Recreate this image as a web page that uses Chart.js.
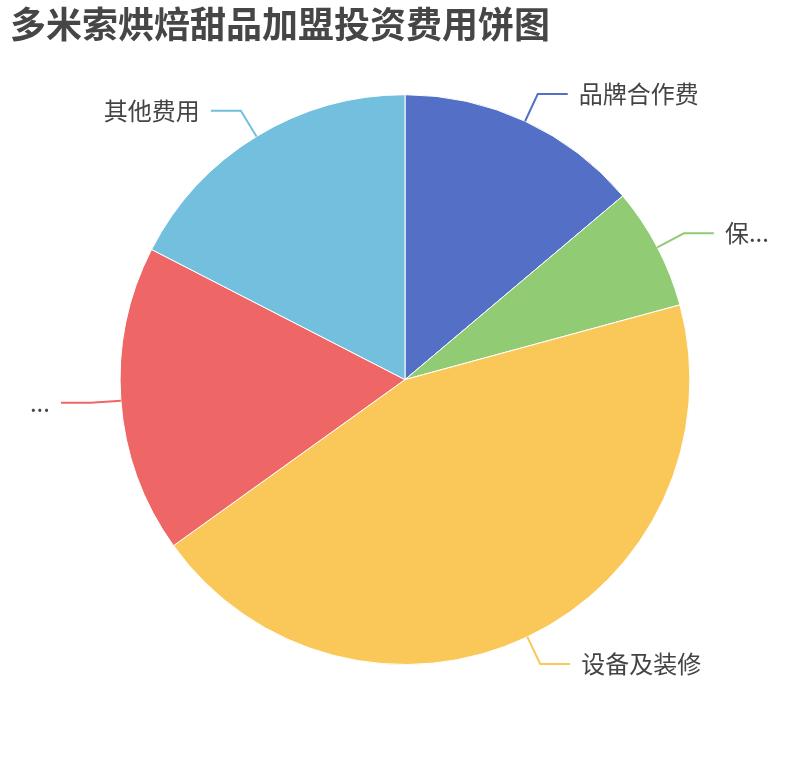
<!DOCTYPE html>
<html lang="zh">
<head>
  <meta charset="UTF-8">
  <title>多米索烘焙甜品加盟投资费用饼图</title>
  <script src="https://cdn.jsdelivr.net/npm/chart.js"></script>
  <style>
    html, body { margin: 0; padding: 0; background: #fff; }
    #wrap { width: 810px; height: 760px; }
  </style>
</head>
<body>
<div id="wrap"><canvas id="pieChart"></canvas></div>
<script>
  // 费用项目（万元）
  const categories = ['品牌合作费', '保证金', '设备及装修', '首批物料及人员培训费', '其他费用'];
  const shownLabels = ['品牌合作费', '保...', '设备及装修', '...', '其他费用'];
  const amounts = [5, 2.5, 16, 6.3, 6.3];
  const colors = ['#5470c6', '#91cc75', '#fac858', '#ee6666', '#73c0de'];

  // 画引导线和标签
  const sliceLabels = {
    id: 'sliceLabels',
    afterDatasetsDraw(chart) {
      const ctx = chart.ctx;
      const arcs = chart.getDatasetMeta(0).data;
      ctx.save();
      ctx.font = '24px "Noto Sans CJK SC", sans-serif';
      ctx.textBaseline = 'middle';
      arcs.forEach((arc, i) => {
        const mid = (arc.startAngle + arc.endAngle) / 2;
        const r = arc.outerRadius;
        const x1 = arc.x + Math.cos(mid) * r;
        const y1 = arc.y + Math.sin(mid) * r;
        const x2 = arc.x + Math.cos(mid) * (r + 30);
        const y2 = arc.y + Math.sin(mid) * (r + 30);
        const dir = Math.cos(mid) >= 0 ? 1 : -1;
        const x3 = x2 + dir * 30;

        ctx.strokeStyle = colors[i];
        ctx.lineWidth = 2;
        ctx.beginPath();
        ctx.moveTo(x1, y1);
        ctx.lineTo(x2, y2);
        ctx.lineTo(x3, y2);
        ctx.stroke();

        ctx.fillStyle = '#444';
        ctx.textAlign = dir > 0 ? 'left' : 'right';
        ctx.fillText(shownLabels[i], x3 + dir * 11, y2);
      });
      ctx.restore();
    }
  };

  new Chart(document.getElementById('pieChart'), {
    type: 'pie',
    data: {
      labels: categories,
      datasets: [{
        data: amounts,
        backgroundColor: colors,
        borderColor: '#fff',
        borderWidth: 1
      }]
    },
    options: {
      responsive: true,
      maintainAspectRatio: false,
      animation: false,
      layout: {
        padding: { left: 10, right: 10, top: 0, bottom: 95 }
      },
      plugins: {
        legend: { display: false },
        tooltip: { enabled: false },
        title: {
          display: true,
          text: '多米索烘焙甜品加盟投资费用饼图',
          align: 'start',
          color: '#464646',
          font: { family: '"Noto Sans CJK SC", sans-serif', size: 36, weight: 'bold', lineHeight: 1.2 },
          padding: { top: 3, bottom: 48 }
        }
      }
    },
    plugins: [sliceLabels]
  });
</script>
</body>
</html>
